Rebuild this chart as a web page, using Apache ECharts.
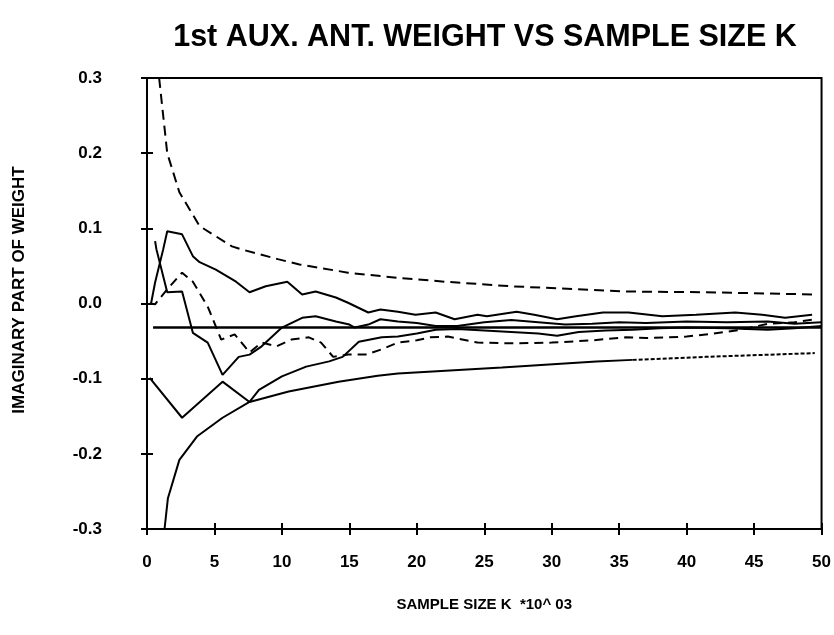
<!DOCTYPE html>
<html>
<head>
<meta charset="utf-8">
<script src="https://cdn.jsdelivr.net/npm/echarts@6/dist/echarts.min.js"></script>
<style>
html,body{margin:0;padding:0;background:#fff;}
#chart{width:834px;height:635px;}
</style>
</head>
<body>
<div id="chart"></div>
<script>
// ---- data (sample size K in thousands, imaginary part of weight) ----
var titleText = '1st AUX. ANT. WEIGHT VS SAMPLE SIZE K';
var xAxisName = 'SAMPLE SIZE K  *10^ 03';
var yAxisName = 'IMAGINARY PART OF WEIGHT';
var xTicks = [0, 5, 10, 15, 20, 25, 30, 35, 40, 45, 50];
var yTicks = [-0.3, -0.2, -0.1, 0.0, 0.1, 0.2, 0.3];

// upper bound (dashed)
var upperK = [0.9, 1.5, 2.4, 3.9, 6.3, 7.0, 9.7, 11.3, 14.9, 18.6, 22.1, 26.9, 31.8, 35.5, 41.3, 49.5];
var upperV = [0.30, 0.20, 0.148, 0.103, 0.076, 0.072, 0.059, 0.052, 0.041, 0.034, 0.029, 0.023, 0.019, 0.016, 0.015, 0.012];

// lower bound (solid, then dotted)
var lowerK = [1.3, 1.55, 2.4, 3.7, 5.6, 7.6, 10.5, 14.2, 17.1, 18.6, 26.3, 33.3, 36.0];
var lowerV = [-0.30, -0.259, -0.208, -0.177, -0.152, -0.131, -0.117, -0.104, -0.096, -0.093, -0.085, -0.077, -0.075];
var lowerDotK = [36.0, 41.4, 49.5];
var lowerDotV = [-0.075, -0.071, -0.066];

// reference level (horizontal solid)
var refK = [0.45, 50];
var refV = [-0.032, -0.032];

// sample curve B (solid, upper)
var bK = [0.3, 0.6, 1.2, 1.5, 2.6, 3.4, 3.9, 5.1, 6.6, 7.6, 8.8, 10.4, 11.5, 12.5, 14.0, 14.9, 16.4, 17.3, 18.6, 19.9, 21.4, 22.8, 24.5, 25.2, 27.4, 28.7, 30.4, 31.8, 33.8, 35.7, 38.2, 40.7, 43.6, 45.6, 47.3, 49.3];
var bV = [0.0, 0.028, 0.072, 0.096, 0.092, 0.063, 0.055, 0.045, 0.029, 0.015, 0.023, 0.029, 0.012, 0.016, 0.008, 0.001, -0.012, -0.008, -0.011, -0.015, -0.012, -0.021, -0.015, -0.017, -0.011, -0.015, -0.021, -0.017, -0.012, -0.012, -0.017, -0.015, -0.012, -0.015, -0.019, -0.015];

// sample curve C (solid, deepest dip)
var cK = [0.6, 0.7, 1.5, 2.6, 3.4, 4.5, 5.6, 6.8, 7.6, 8.5, 10.0, 11.5, 12.5, 14.0, 15.0, 15.4, 16.4, 17.3, 18.6, 20.0, 21.4, 23.0, 25.0, 27.0, 29.0, 31.0, 33.0, 35.0, 37.0, 40.0, 43.0, 46.0, 48.0, 50.0];
var cV = [0.083, 0.072, 0.015, 0.016, -0.039, -0.052, -0.095, -0.071, -0.068, -0.057, -0.032, -0.019, -0.017, -0.024, -0.028, -0.032, -0.028, -0.021, -0.024, -0.026, -0.030, -0.030, -0.025, -0.022, -0.025, -0.028, -0.027, -0.025, -0.026, -0.024, -0.025, -0.024, -0.027, -0.025];

// sample curve D (dashed)
var dK = [0.2, 0.6, 1.5, 2.6, 3.4, 4.5, 5.5, 6.5, 7.6, 8.5, 9.6, 10.7, 12.0, 12.9, 13.8, 14.9, 16.2, 17.4, 18.6, 20.0, 21.0, 22.3, 24.5, 27.0, 30.0, 33.0, 35.5, 37.0, 40.0, 42.0, 44.0, 46.0, 48.0, 49.5];
var dV = [0.0, -0.001, 0.019, 0.041, 0.029, -0.004, -0.048, -0.041, -0.065, -0.052, -0.057, -0.048, -0.045, -0.052, -0.071, -0.068, -0.068, -0.061, -0.052, -0.049, -0.045, -0.044, -0.052, -0.053, -0.052, -0.049, -0.045, -0.046, -0.044, -0.040, -0.035, -0.027, -0.025, -0.021];

// sample curve E (solid, starts low)
var eK = [0.2, 2.6, 5.6, 7.6, 8.3, 10.0, 11.8, 13.5, 14.5, 15.7, 17.4, 18.6, 20.0, 21.4, 23.0, 25.0, 27.0, 29.0, 30.4, 32.0, 34.0, 36.0, 38.0, 40.0, 43.0, 46.0, 48.0, 50.0];
var eV = [-0.099, -0.152, -0.104, -0.131, -0.115, -0.097, -0.084, -0.077, -0.071, -0.051, -0.045, -0.044, -0.040, -0.035, -0.034, -0.036, -0.038, -0.040, -0.043, -0.038, -0.036, -0.035, -0.033, -0.032, -0.033, -0.035, -0.033, -0.030];

function zip(ks, vs) { return ks.map(function (k, i) { return [k, vs[i]]; }); }

function lineSeries(ks, vs, type, width) {
  return {
    type: 'line', xAxisIndex: 0, yAxisIndex: 0,
    data: zip(ks, vs), showSymbol: false, symbol: 'none', silent: true,
    clip: true,
    lineStyle: { color: '#000', width: width || 2, type: type || 'solid' }
  };
}

var chart = echarts.init(document.getElementById('chart'), null, { renderer: 'canvas' });
var labelFont = { color: '#000', fontFamily: 'Liberation Sans, Arial, sans-serif', fontWeight: 'bold', fontSize: 17 };

var baseX = { type: 'value', min: 0, max: 50, interval: 5, splitLine: { show: false } };
var baseY = { type: 'value', min: -0.3, max: 0.3, interval: 0.1, splitLine: { show: false } };

chart.setOption({
  animation: false,
  backgroundColor: '#fff',
  title: {
    text: titleText, left: 480, top: 17, textAlign: 'center',
    textStyle: { color: '#000', fontFamily: 'Liberation Sans, Arial, sans-serif', fontWeight: 'bold', fontSize: 30.5 }
  },
  grid: { left: 147, right: 7, top: 78, bottom: 106, show: true, borderColor: '#000', borderWidth: 2, backgroundColor: 'transparent' },
  xAxis: [
    Object.assign({}, baseX, {
      position: 'bottom',
      axisLine: { show: true, onZero: false, lineStyle: { color: '#000', width: 2 } },
      axisTick: { show: true, inside: false, length: 6, lineStyle: { color: '#000', width: 2 } },
      axisLabel: Object.assign({ margin: 25, formatter: function (v) { return xTicks.indexOf(v) >= 0 ? String(v) : ''; } }, labelFont),
      name: xAxisName, nameLocation: 'middle', nameGap: 68,
      nameTextStyle: { color: '#000', fontFamily: 'Liberation Sans, Arial, sans-serif', fontWeight: 'bold', fontSize: 15 }
    }),
    Object.assign({}, baseX, {
      position: 'bottom',
      axisLine: { show: false, onZero: false },
      axisTick: { show: true, inside: true, length: 6, lineStyle: { color: '#000', width: 2 } },
      axisLabel: { show: false }
    })
  ],
  yAxis: [
    Object.assign({}, baseY, {
      position: 'left',
      axisLine: { show: true, onZero: false, lineStyle: { color: '#000', width: 2 } },
      axisTick: { show: true, inside: false, length: 6, lineStyle: { color: '#000', width: 2 } },
      axisLabel: Object.assign({ margin: 45, formatter: function (v) {
        var r = Math.round(v * 10) / 10;
        for (var i = 0; i < yTicks.length; i++) { if (Math.abs(yTicks[i] - r) < 1e-9) return (r === 0 ? 0 : r).toFixed(1); }
        return '';
      } }, labelFont)
    }),
    Object.assign({}, baseY, {
      position: 'left',
      axisLine: { show: false, onZero: false },
      axisTick: { show: true, inside: true, length: 6, lineStyle: { color: '#000', width: 2 } },
      axisLabel: { show: false }
    })
  ],
  graphic: [{
    type: 'text', x: 19, y: 290, rotation: Math.PI / 2,
    style: { text: yAxisName, fill: '#000', font: 'bold 17px "Liberation Sans", Arial, sans-serif', textAlign: 'center', textVerticalAlign: 'middle' }
  }],
  series: [
    lineSeries(upperK, upperV, [10, 6], 2),
    lineSeries(lowerK, lowerV, 'solid', 2),
    lineSeries(lowerDotK, lowerDotV, [4, 2], 2),
    lineSeries(refK, refV, 'solid', 2.5),
    lineSeries(bK, bV, 'solid', 2),
    lineSeries(cK, cV, 'solid', 2),
    lineSeries(dK, dV, [9, 6], 2),
    lineSeries(eK, eV, 'solid', 2)
  ]
});
</script>
</body>
</html>
